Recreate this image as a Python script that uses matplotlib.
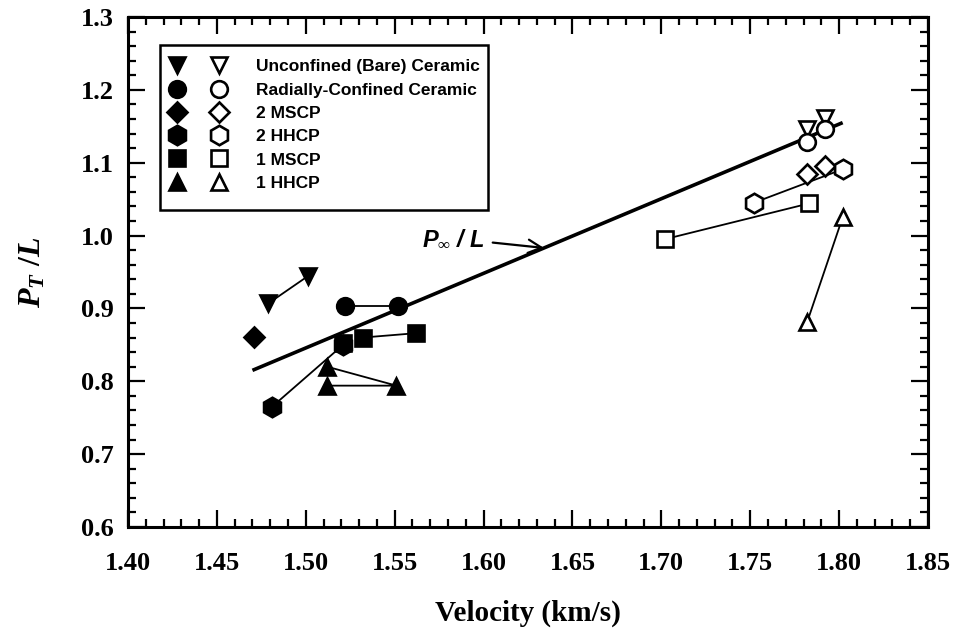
import numpy as np
import matplotlib.pyplot as plt
from matplotlib.legend_handler import HandlerTuple
from matplotlib.patches import Rectangle
from matplotlib.ticker import MultipleLocator

plt.rcParams['mathtext.fontset'] = 'custom'
plt.rcParams['mathtext.it'] = 'Liberation Serif:bold:italic'
plt.rcParams['mathtext.rm'] = 'Liberation Serif:bold'
plt.rcParams['mathtext.sf'] = 'Liberation Sans:bold:italic'

# solid = filled symbols, open = hollow symbols (velocity km/s, P_T/L)
bare_solid_v = [1.479, 1.501]
bare_solid_p = [0.907, 0.944]
bare_open_v = [1.782, 1.792]
bare_open_p = [1.146, 1.161]

radial_solid_v = [1.522, 1.552]
radial_solid_p = [0.903, 0.903]
radial_open_v = [1.782, 1.792]
radial_open_p = [1.128, 1.146]

mscp2_solid_v = [1.471]
mscp2_solid_p = [0.861]
mscp2_open_v = [1.782, 1.792]
mscp2_open_p = [1.085, 1.095]

hhcp2_solid_v = [1.481, 1.521]
hhcp2_solid_p = [0.765, 0.850]
hhcp2_open_v = [1.752, 1.802]
hhcp2_open_p = [1.045, 1.091]

mscp1_solid_v = [1.521, 1.532, 1.562]
mscp1_solid_p = [0.852, 0.860, 0.866]
mscp1_open_v = [1.702, 1.783]
mscp1_open_p = [0.995, 1.044]

hhcp1_solid_v = [1.512, 1.551, 1.512]
hhcp1_solid_p = [0.820, 0.794, 0.794]
hhcp1_open_v = [1.782, 1.802]
hhcp1_open_p = [0.881, 1.025]

fit_v = [1.470, 1.802]
fit_p = [0.815, 1.155]

labels = ['Unconfined (Bare) Ceramic', 'Radially-Confined Ceramic',
          '2 MSCP', '2 HHCP', '1 MSCP', '1 HHCP']

fig = plt.figure(figsize=(9.56, 6.36), dpi=100)
ax = fig.add_axes([0.1339, 0.1714, 0.8368, 0.8019])

ax.plot(fit_v, fit_p, color='black', lw=2.6, zorder=2, solid_capstyle='butt')


def pts(v, p, marker, filled, link, ms=12):
    # connecting line for the points listed in link
    if link is not None:
        ax.plot(np.array(v)[link], np.array(p)[link], color='black',
                lw=1.3, zorder=3)
    face = 'black' if filled else 'white'
    h, = ax.plot(v, p, ls='none', marker=marker, ms=ms, mfc=face,
                 mec='black', mew=1.9, zorder=4)
    return h


handles = []
handles.append((pts(bare_solid_v, bare_solid_p, 'v', True, slice(None)),
                pts(bare_open_v, bare_open_p, 'v', False, None)))
handles.append((pts(radial_solid_v, radial_solid_p, 'o', True, slice(None)),
                pts(radial_open_v, radial_open_p, 'o', False, None)))
handles.append((pts(mscp2_solid_v, mscp2_solid_p, 'D', True, None, ms=10),
                pts(mscp2_open_v, mscp2_open_p, 'D', False, None, ms=10)))
handles.append((pts(hhcp2_solid_v, hhcp2_solid_p, 'h', True, slice(None), ms=14),
                pts(hhcp2_open_v, hhcp2_open_p, 'h', False, slice(None), ms=14)))
handles.append((pts(mscp1_solid_v, mscp1_solid_p, 's', True, slice(1, None), ms=11),
                pts(mscp1_open_v, mscp1_open_p, 's', False, slice(None), ms=11)))
handles.append((pts(hhcp1_solid_v, hhcp1_solid_p, '^', True, slice(None)),
                pts(hhcp1_open_v, hhcp1_open_p, '^', False, slice(None))))

ax.annotate(r'$\mathsf{P}_{\infty}\mathsf{\ /\ L}$', xy=(1.634, 0.983),
            xytext=(1.583, 0.996), ha='center', va='center', fontsize=17,
            arrowprops=dict(arrowstyle='->', color='black', lw=1.6,
                            mutation_scale=24, shrinkA=4, shrinkB=0))

leg = ax.legend(handles, labels, loc='upper left', bbox_to_anchor=(0.040, 0.936),
                handler_map={tuple: HandlerTuple(ndivide=None, pad=1.5)},
                prop={'family': 'Liberation Sans', 'weight': 'bold', 'size': 12.5},
                handlelength=3.3, handletextpad=1.7, labelspacing=0.47,
                borderpad=0.55, frameon=False, borderaxespad=0)
# legend box is a bit taller than its rows, as in the original figure
ax.add_patch(Rectangle((0.040, 0.622), 0.41, 0.323, transform=ax.transAxes,
                       fill=False, lw=1.8, ec='black', zorder=5))

ax.set_xlim(1.40, 1.85)
ax.set_ylim(0.6, 1.3)
ax.xaxis.set_major_locator(MultipleLocator(0.05))
ax.xaxis.set_minor_locator(MultipleLocator(0.01))
ax.yaxis.set_major_locator(MultipleLocator(0.1))
ax.yaxis.set_minor_locator(MultipleLocator(0.02))
ax.set_xticks(np.arange(1.40, 1.851, 0.05))
ax.set_xticklabels(['%.2f' % t for t in np.arange(1.40, 1.851, 0.05)])
ax.set_yticklabels(['%.1f' % t for t in ax.get_yticks()])
ax.tick_params(which='both', direction='in', top=True, right=True, width=1.6)
ax.tick_params(which='major', length=12)
ax.tick_params(which='minor', length=6)
ax.tick_params(axis='x', pad=18)
ax.tick_params(axis='y', pad=10)
for lab in ax.get_xticklabels() + ax.get_yticklabels():
    lab.set_family('Liberation Serif')
    lab.set_weight('bold')
    lab.set_size(19)
for sp in ax.spines.values():
    sp.set_linewidth(2.2)

ax.set_xlabel('Velocity (km/s)', family='Liberation Serif', weight='bold',
              size=21, labelpad=18)
ax.set_ylabel(r'$P_T\ /L$', size=23, labelpad=24)

fig.savefig('out.png', dpi=100)
